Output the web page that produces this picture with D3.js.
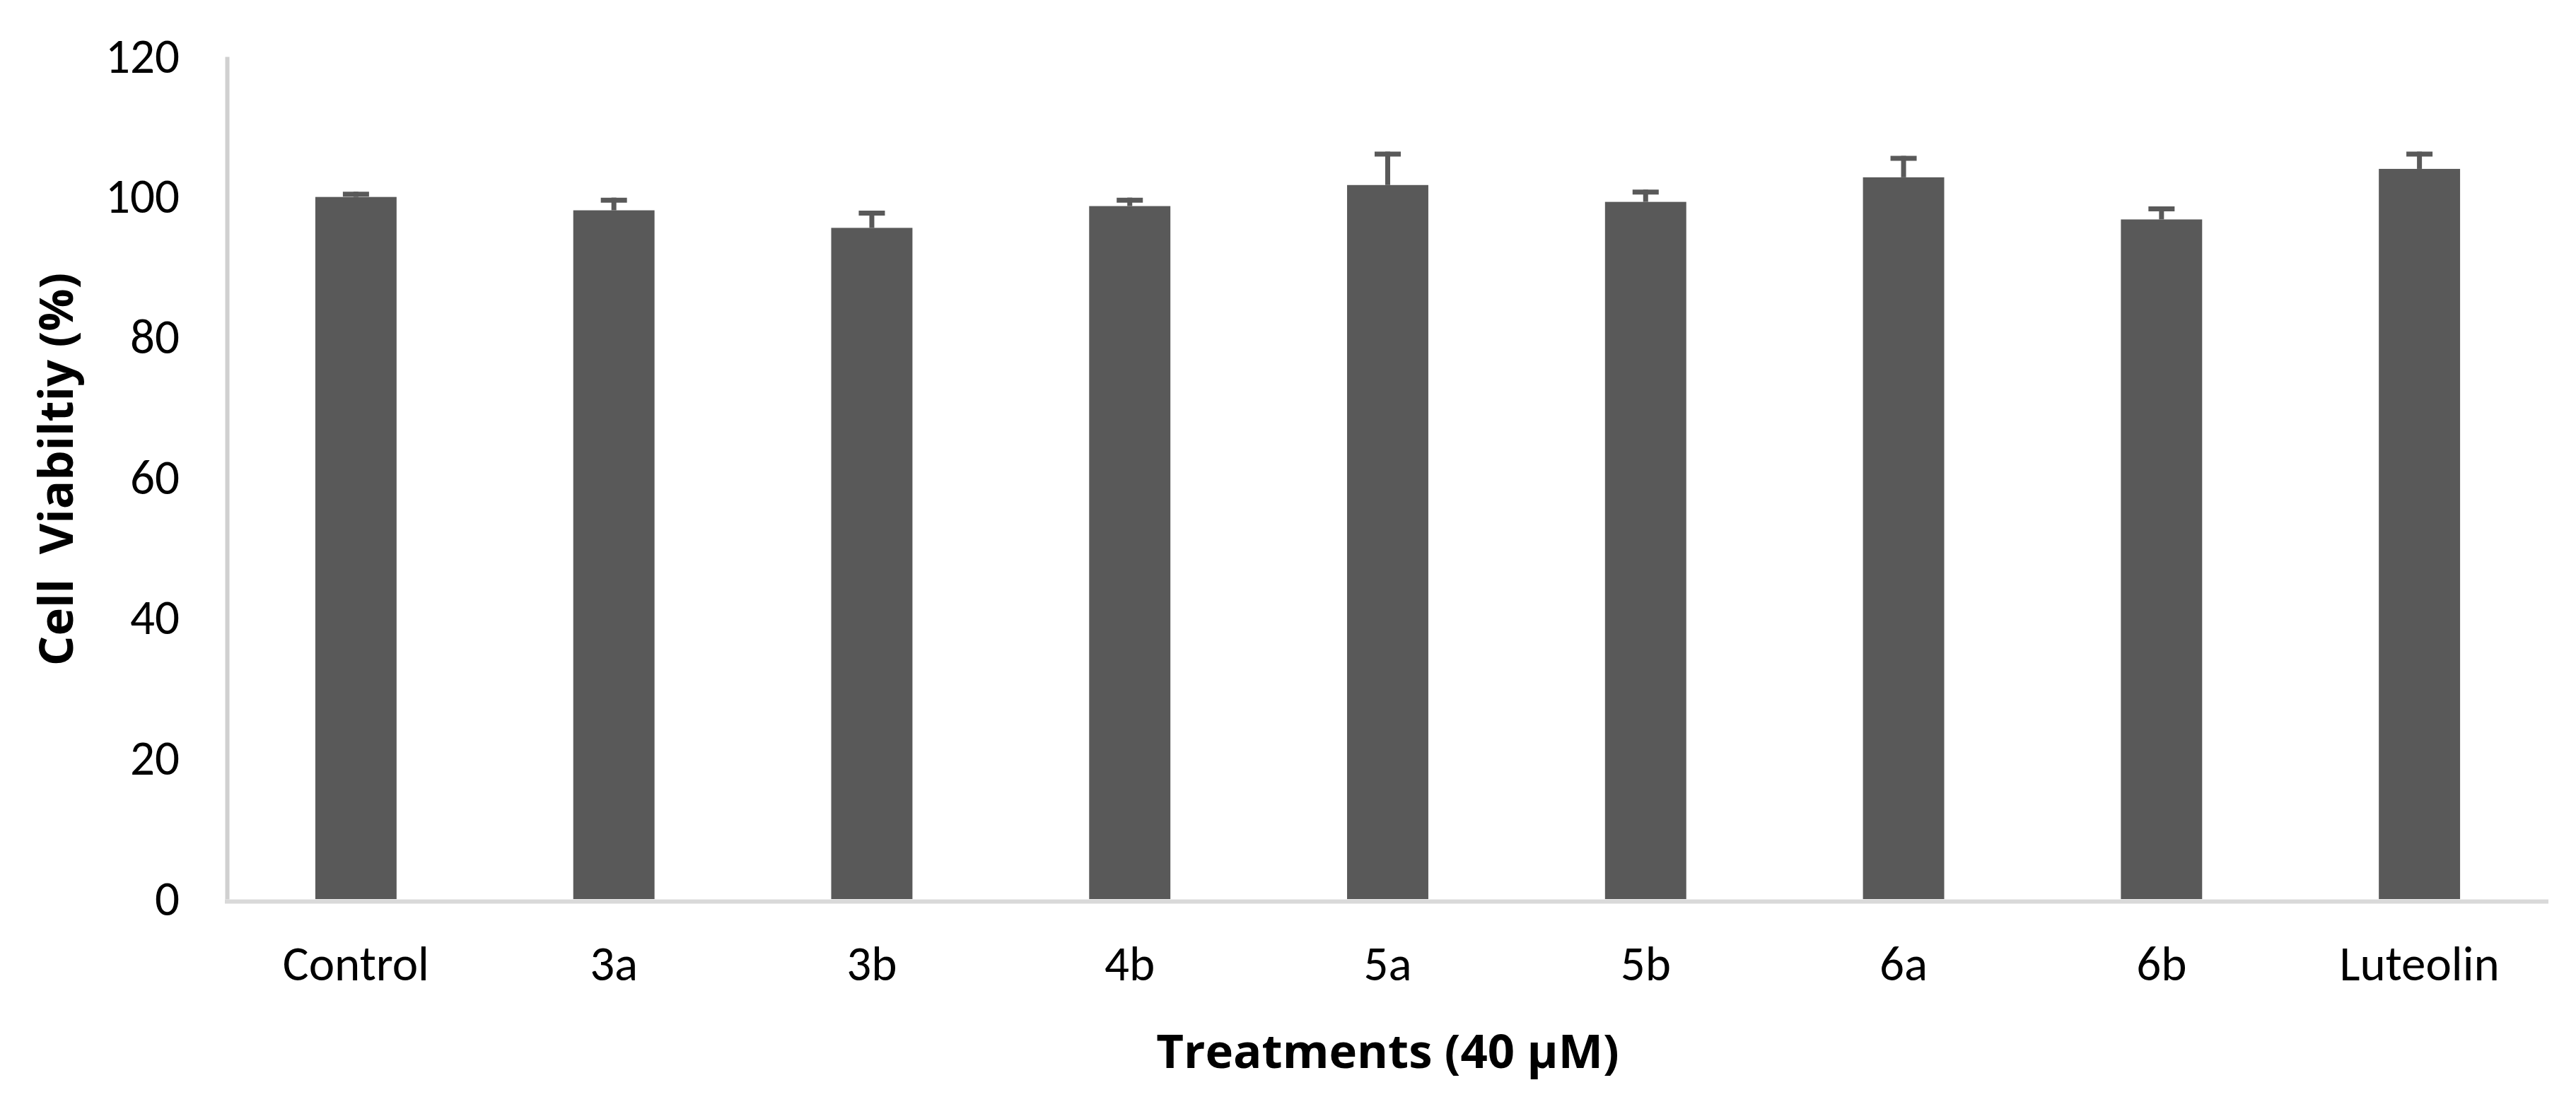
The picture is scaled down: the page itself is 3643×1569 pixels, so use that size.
<!DOCTYPE html>
<html>
<head>
<meta charset="utf-8">
<script src="https://cdn.jsdelivr.net/npm/d3@7"></script>
<style>
	body { margin: 0; background: #fff; }
	.tick text { font-family: Carlito, Calibri, Lato, sans-serif; fill: #000; }
	.title { font-family: "Open Sans", sans-serif; font-weight: bold; fill: #000; }
</style>
</head>
<body>
<script>
// data
const treatments = ['Control', '3a', '3b', '4b', '5a', '5b', '6a', '6b', 'Luteolin'];
const viability = [100, 98.1, 95.6, 98.7, 101.7, 99.3, 102.8, 96.8, 104.0];
const errPlus = [0.4, 1.45, 2.1, 0.85, 4.4, 1.4, 2.7, 1.5, 2.1];
const yTicks = [0, 20, 40, 60, 80, 100, 120];

class BarChart {
	constructor() {
		this._width = 3643;
		this._height = 1569;
		this._margins = {left: 321, right: 39, top: 80, bottom: 297};
		this._barColor = '#595959';
		this._axisColor = '#d9d9d9';
		this._scaleX = d3.scaleBand().domain(treatments).range([0, this.quadrantWidth()]).paddingInner(0.685).paddingOuter(0.3425);
		this._scaleY = d3.scaleLinear().domain([0, 120]).range([this.quadrantHeight(), 0]);
		this._svg = null;
		this._body = null;
	}
	render() {
		this._svg = d3.select('body')
			.append('svg')
			.attr('width', this._width)
			.attr('height', this._height)
			.style('background', '#fff')
		this._body = this._svg.append('g')
			.attr('transform', `translate(${this._margins.left},${this._margins.top})`)
		this.renderBars();
		this.renderErrors();
		this.renderAxes();
		this.renderTitles();
	}
	renderBars() {
		this._body.selectAll('rect.bar')
			.data(viability)
			.enter()
			.append('rect')
			.attr('class', 'bar')
			.attr('x', (d, i) => this._scaleX(treatments[i]))
			.attr('y', d => this._scaleY(d))
			.attr('width', this._scaleX.bandwidth())
			.attr('height', d => this._scaleY(0) - this._scaleY(d))
			.attr('fill', this._barColor)
	}
	renderErrors() {
		let cx = i => this._scaleX(treatments[i]) + this._scaleX.bandwidth() / 2;
		let g = this._body.append('g').attr('class', 'errors')
			.attr('stroke', this._barColor)
			.attr('stroke-width', 7)
		g.selectAll('line.stem')
			.data(viability)
			.enter()
			.append('line')
			.attr('class', 'stem')
			.attr('x1', (d, i) => cx(i))
			.attr('x2', (d, i) => cx(i))
			.attr('y1', d => this._scaleY(d))
			.attr('y2', (d, i) => this._scaleY(d + errPlus[i]) - 3.5)
		g.selectAll('line.cap')
			.data(viability)
			.enter()
			.append('line')
			.attr('class', 'cap')
			.attr('x1', (d, i) => cx(i) - 18.5)
			.attr('x2', (d, i) => cx(i) + 18.5)
			.attr('y1', (d, i) => this._scaleY(d + errPlus[i]))
			.attr('y2', (d, i) => this._scaleY(d + errPlus[i]))
	}
	renderAxes() {
		let yAxis = d3.axisLeft(this._scaleY).tickValues(yTicks).tickSize(0).tickPadding(67);
		let yg = this._body.append('g')
			.attr('class', 'y axis')
			.call(yAxis)
		yg.select('.domain').attr('stroke', '#d0d0d0').attr('stroke-width', 6)
		yg.selectAll('.tick text').style('font-size', '69px')

		let xAxis = d3.axisBottom(this._scaleX).tickSize(0).tickPadding(63);
		let xg = this._body.append('g')
			.attr('class', 'x axis')
			.attr('transform', `translate(0,${this.quadrantHeight() + 3})`)
			.call(xAxis)
		xg.select('.domain').attr('stroke', this._axisColor).attr('stroke-width', 6)
			.attr('d', `M-3,0.5H${this.quadrantWidth()}`)
		xg.selectAll('.tick text').style('font-size', '69px')
	}
	renderTitles() {
		this._svg.append('text')
			.attr('class', 'title')
			.attr('text-anchor', 'middle')
			.attr('x', this._margins.left + this.quadrantWidth() / 2)
			.attr('y', 1511)
			.style('font-size', '67px')
			.text('Treatments (40 µM)')

		this._svg.append('text')
			.attr('class', 'title')
			.attr('text-anchor', 'middle')
			.attr('transform', 'translate(103,664) rotate(-90)')
			.style('font-size', '67px')
			.style('white-space', 'pre')
			.text('Cell  Viabiltiy (%)')
	}
	quadrantWidth() {
		return this._width - this._margins.left - this._margins.right;
	}
	quadrantHeight() {
		return this._height - this._margins.top - this._margins.bottom;
	}
}

new BarChart().render();
</script>
</body>
</html>
